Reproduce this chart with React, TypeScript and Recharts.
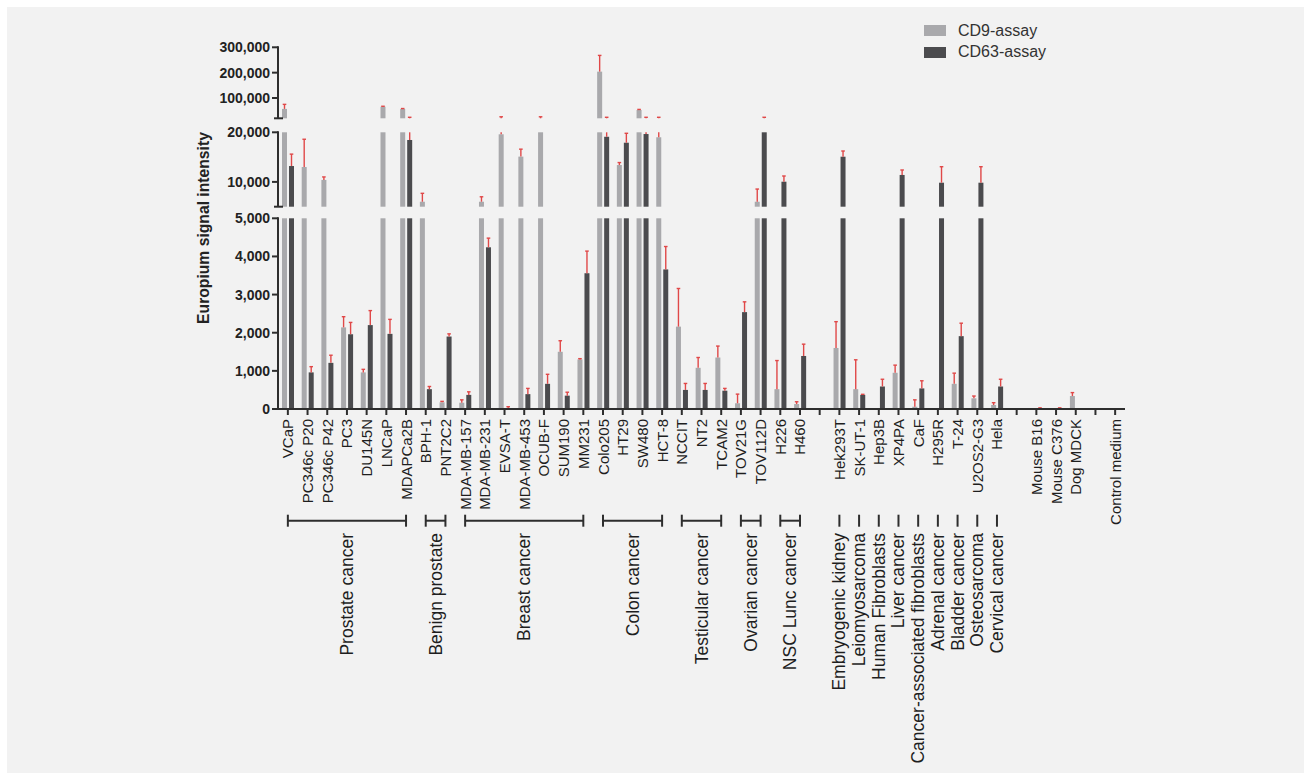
import React from 'react';
import { BarChart, Bar, XAxis, YAxis, ReferenceLine, Legend } from 'recharts';

// ---------------- DATA ----------------
const categories = [
  'VCaP', 'PC346c P20', 'PC346c P42', 'PC3', 'DU145N', 'LNCaP', 'MDAPCa2B',
  'BPH-1', 'PNT2C2',
  'MDA-MB-157', 'MDA-MB-231', 'EVSA-T', 'MDA-MB-453', 'OCUB-F', 'SUM190', 'MM231',
  'Colo205', 'HT29', 'SW480', 'HCT-8',
  'NCCIT', 'NT2', 'TCAM2',
  'TOV21G', 'TOV112D',
  'H226', 'H460',
  '_gap1',
  'Hek293T', 'SK-UT-1', 'Hep3B', 'XP4PA', 'CaF', 'H295R', 'T-24', 'U2OS2-G3', 'Hela',
  '_gap2',
  'Mouse B16', 'Mouse C376', 'Dog MDCK',
  '_gap3',
  'Control medium',
];

// CD9-assay mean and (mean + error) values
const cd9 = [
  57000, 13000, 10400, 2140, 960, 65700, 56700,
  6000, 175,
  165, 6000, 19600, 15100, 20000, 1500, 1300,
  204000, 13400, 52700, 19000,
  2160, 1080, 1350,
  150, 6000,
  520, 130,
  0,
  1600, 520, 0, 950, 60, 0, 660, 280, 105,
  0,
  0, 0, 340,
  0,
  0,
];
const cd9Top = [
  75000, 18600, 11000, 2420, 1040, 67500, 58500,
  7700, 200,
  240, 7000, 26000, 16600, 26000, 1790, 1320,
  268000, 13900, 55000, 24000,
  3160, 1350, 1650,
  390, 8560,
  1270, 190,
  0,
  2290, 1290, 0, 1150, 240, 0, 940, 340, 165,
  0,
  0, 0, 430,
  0,
  0,
];

// CD63-assay mean and (mean + error) values
const cd63 = [
  13200, 960, 1210, 1960, 2200, 1970, 18450,
  520, 1900,
  370, 4240, 20, 390, 660, 350, 3560,
  19100, 17900, 19650, 3660,
  500, 500, 480,
  2540, 20000,
  10040, 1390,
  0,
  15080, 370, 590, 11400, 540, 9840, 1910, 9840, 590,
  0,
  5, 5, 0,
  0,
  0,
];
const cd63Top = [
  15600, 1110, 1410, 2270, 2580, 2350, 24000,
  590, 1970,
  450, 4480, 60, 540, 910, 440, 4140,
  24000, 19800, 24000, 4260,
  670, 670, 540,
  2810, 24000,
  11190, 1700,
  0,
  16230, 385, 780, 12400, 740, 13060, 2250, 13060, 780,
  0,
  30, 30, 0,
  0,
  0,
];

const seriesNames = ['CD9-assay', 'CD63-assay'];
const yTickValues = [0, 1000, 2000, 3000, 4000, 5000, 10000, 20000, 100000, 200000, 300000];

const groupNames = [
  'Prostate cancer', 'Benign prostate', 'Breast cancer', 'Colon cancer',
  'Testicular cancer', 'Ovarian cancer', 'NSC Lunc cancer',
  'Embryogenic kidney', 'Leiomyosarcoma', 'Human Fibroblasts', 'Liver cancer',
  'Cancer-associated fibroblasts', 'Adrenal cancer', 'Bladder cancer',
  'Osteosarcoma', 'Cervical cancer',
];
const groupFrom = [
  'VCaP', 'BPH-1', 'MDA-MB-157', 'Colo205', 'NCCIT', 'TOV21G', 'H226',
  'Hek293T', 'SK-UT-1', 'Hep3B', 'XP4PA', 'CaF', 'H295R', 'T-24', 'U2OS2-G3', 'Hela',
];
const groupTo = [
  'MDAPCa2B', 'PNT2C2', 'MM231', 'HCT-8', 'TCAM2', 'TOV112D', 'H460',
  'Hek293T', 'SK-UT-1', 'Hep3B', 'XP4PA', 'CaF', 'H295R', 'T-24', 'U2OS2-G3', 'Hela',
];

// ---------------- BROKEN AXIS MAPPING ----------------
// value ranges of the three axis segments and their display extent (display unit = 1px)
const SEGMENTS = [
  { v0: 0, v1: 5000, d0: 0, d1: 190.7 },
  { v0: 5000, v1: 20000, d0: 202.3, d1: 276.7 },
  { v0: 20000, v1: 300000, d0: 290.7, d1: 361.7 },
];
const toD = (v: number): number => {
  for (const s of SEGMENTS) {
    if (v <= s.v1) return s.d0 + ((v - s.v0) / (s.v1 - s.v0)) * (s.d1 - s.d0);
  }
  const s = SEGMENTS[SEGMENTS.length - 1];
  return s.d0 + ((v - s.v0) / (s.v1 - s.v0)) * (s.d1 - s.d0);
};

const data = categories.map((name, i) => ({
  name,
  cd9: toD(cd9[i]),
  cd9Err: toD(cd9Top[i]),
  cd63: toD(cd63[i]),
  cd63Err: toD(cd63Top[i]),
}));

const tickLabel = new Map<string, string>();
yTickValues.forEach((v) => tickLabel.set(toD(v).toFixed(2), v.toLocaleString('en-US')));
const yTicks = [...yTickValues.map(toD), SEGMENTS[1].d0, SEGMENTS[2].d0].sort((a, b) => a - b);

// ---------------- LAYOUT / STYLE ----------------
const W = 1311;
const H = 780;
const MARGIN = { top: 47, right: 186, bottom: 259, left: 128 };
const Y_AXIS_W = 150;
const X_AXIS_H = 112;
const AXIS_X = MARGIN.left + Y_AXIS_W;
const D_MAX = 362;
const PX = 1; // plot height (362px) / D_MAX
const BRACKET_D = -111.7;
const FONT = '"Liberation Sans", Arial, Helvetica, sans-serif';
const AXIS_COLOR = '#2e2e2e';
const ERR_COLOR = '#e04848';
const CD9_COLOR = '#a9a9ac';
const CD63_COLOR = '#4b4b4e';

const SegBar = (props: any) => {
  const { x, y, width, height, fill, payload, valKey, errKey } = props;
  const D = payload[valKey];
  const E = payload[errKey];
  if (!(D > 0)) return null;
  const base = y + height;
  const k = D > 0.5 ? height / D : 1;
  const py = (d: number) => base - d * k;
  const cx = x + width / 2;
  const parts: any[] = [];
  SEGMENTS.forEach((s, i) => {
    if (D > s.d0) {
      const top = Math.min(D, s.d1);
      parts.push(
        <rect key={'r' + i} x={x} y={py(top)} width={width} height={(top - s.d0) * k} fill={fill} />
      );
    }
  });
  if (E > D) {
    SEGMENTS.forEach((s, i) => {
      const lo = Math.max(D, s.d0);
      const hi = Math.min(E, s.d1);
      if (hi > lo) {
        parts.push(
          <line key={'e' + i} x1={cx} x2={cx} y1={py(lo)} y2={py(hi)} stroke={ERR_COLOR} strokeWidth={1.4} />
        );
      }
    });
    parts.push(
      <line key="cap" x1={cx - 1.8} x2={cx + 1.8} y1={py(E)} y2={py(E)} stroke={ERR_COLOR} strokeWidth={1.4} />
    );
  }
  return <g>{parts}</g>;
};

const YTick = (props: any) => {
  const { y, payload } = props;
  const d = payload.value;
  const label = tickLabel.get(Number(d).toFixed(2));
  const els: any[] = [];
  SEGMENTS.forEach((s, i) => {
    if (Math.abs(d - s.d1) < 0.01) {
      els.push(
        <line key={'ax' + i} x1={AXIS_X} x2={AXIS_X} y1={y - 1} y2={y + (s.d1 - s.d0) * PX}
          stroke={AXIS_COLOR} strokeWidth={2} />
      );
    }
  });
  if (label !== undefined) {
    els.push(<line key="t" x1={AXIS_X - 6} x2={AXIS_X} y1={y} y2={y} stroke={AXIS_COLOR} strokeWidth={2} />);
    els.push(
      <text key="l" x={AXIS_X - 8} y={y} textAnchor="end" dominantBaseline="central"
        fontFamily={FONT} fontSize={14} fontWeight={700} fill="#222">{label}</text>
    );
  } else {
    els.push(<line key="b" x1={AXIS_X - 4} x2={AXIS_X + 5} y1={y} y2={y} stroke={AXIS_COLOR} strokeWidth={2} />);
  }
  return <g>{els}</g>;
};

const XTick = (props: any) => {
  const { x, y, payload } = props;
  const name = String(payload.value);
  if (name.startsWith('_')) return null;
  const ty = y + 2;
  return (
    <text x={x} y={ty} transform={`rotate(-90 ${x} ${ty})`} textAnchor="end" dominantBaseline="central"
      fontFamily={FONT} fontSize={15} fill="#1e1e1e">{name}</text>
  );
};

const Bracket = (props: any) => {
  const { x1, y1, x2, text } = props;
  const cx = (x1 + x2) / 2;
  const ty = y1 + 12.3;
  return (
    <g>
      {x2 - x1 > 0.5 && <line x1={x1} x2={x2} y1={y1} y2={y1} stroke={AXIS_COLOR} strokeWidth={2} />}
      <line x1={x1} x2={x1} y1={y1 - 6} y2={y1 + 6} stroke={AXIS_COLOR} strokeWidth={2} />
      {x2 - x1 > 0.5 && <line x1={x2} x2={x2} y1={y1 - 6} y2={y1 + 6} stroke={AXIS_COLOR} strokeWidth={2} />}
      <text x={cx} y={ty} transform={`rotate(-90 ${cx} ${ty})`} textAnchor="end" dominantBaseline="central"
        fontFamily={FONT} fontSize={17.5} fill="#1e1e1e">{text}</text>
    </g>
  );
};

const LegendContent = (props: any) => {
  const payload = [...(props.payload || [])].sort(
    (a: any, b: any) => seriesNames.indexOf(a.value) - seriesNames.indexOf(b.value)
  );
  return (
    <div style={{ fontFamily: FONT, fontSize: 16, color: '#333' }}>
      {payload.map((e: any) => (
        <div key={e.value} style={{ display: 'flex', alignItems: 'center', height: 21.5 }}>
          <div style={{ width: 22, height: 11, background: e.color, marginRight: 12 }} />
          <span>{e.value}</span>
        </div>
      ))}
    </div>
  );
};

export default function App() {
  return (
    <div style={{ position: 'absolute', left: 0, top: 0, width: W, height: H, background: '#ffffff', overflow: 'hidden' }}>
      <div style={{ position: 'absolute', left: 7, top: 7, width: W - 14, height: H - 14, background: '#f2f2f2' }} />
      <div style={{ position: 'absolute', left: 0, top: 0 }}>
        <BarChart width={W} height={H} data={data} margin={MARGIN} barGap={2} barSize={5}
          style={{ fontFamily: FONT }}>
          <XAxis dataKey="name" type="category" interval={0} height={X_AXIS_H} tick={<XTick />}
            tickSize={6} tickMargin={2}
            axisLine={{ stroke: AXIS_COLOR, strokeWidth: 2 }} tickLine={{ stroke: AXIS_COLOR, strokeWidth: 2 }} />
          <YAxis type="number" domain={[0, D_MAX]} allowDataOverflow ticks={yTicks} interval={0} width={Y_AXIS_W}
            axisLine={false} tickLine={false} tick={<YTick />}
            label={{ value: 'Europium signal intensity', angle: -90, position: 'center', fontSize: 15.7, fontWeight: 700, fill: '#222', fontFamily: FONT }} />
          <Legend content={<LegendContent />} layout="horizontal" verticalAlign="middle" align="center"
            wrapperStyle={{ left: 924, top: 20, width: 170 }} />
          <Bar dataKey="cd9" name={seriesNames[0]} fill={CD9_COLOR} isAnimationActive={false}
            shape={(p: any) => <SegBar {...p} valKey="cd9" errKey="cd9Err" />} />
          <Bar dataKey="cd63" name={seriesNames[1]} fill={CD63_COLOR} isAnimationActive={false}
            shape={(p: any) => <SegBar {...p} valKey="cd63" errKey="cd63Err" />} />
          {groupNames.map((g, i) => (
            <ReferenceLine key={g} ifOverflow="visible"
              segment={[{ x: groupFrom[i], y: BRACKET_D }, { x: groupTo[i], y: BRACKET_D }]}
              shape={(p: any) => <Bracket {...p} text={g} />} />
          ))}
        </BarChart>
      </div>
    </div>
  );
}
